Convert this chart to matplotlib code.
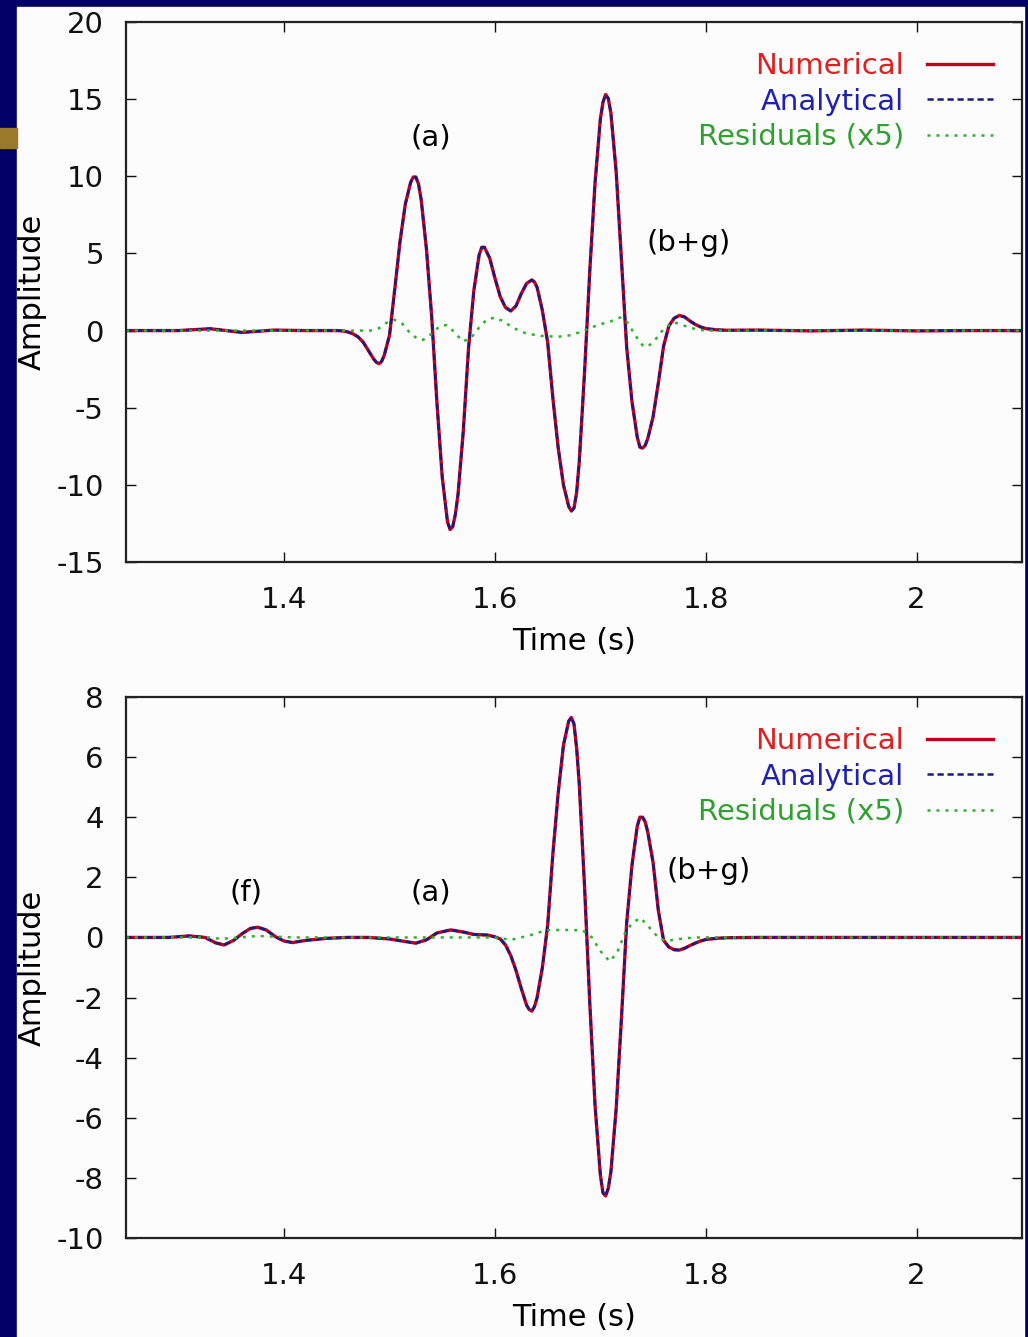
import matplotlib
matplotlib.use('Agg')
import matplotlib.pyplot as plt
from matplotlib.patches import Rectangle

plt.rcParams['font.family'] = ['DejaVu Sans']
plt.rcParams['axes.unicode_minus'] = False

# ---- upper trace: numerical / analytical waveform ----
t_top = [1.25, 1.30, 1.33, 1.36, 1.39, 1.42,
         1.440, 1.450, 1.455, 1.460, 1.465, 1.470, 1.475, 1.480, 1.485, 1.4875,
         1.490, 1.4925, 1.495, 1.500, 1.505, 1.510, 1.515, 1.520, 1.5225, 1.525, 1.5275,
         1.530, 1.535, 1.540, 1.545, 1.550, 1.555, 1.5575, 1.560, 1.5625, 1.565,
         1.570, 1.575, 1.580, 1.585, 1.5875, 1.590, 1.595, 1.600, 1.605, 1.610,
         1.615, 1.620, 1.625, 1.630, 1.635, 1.6375, 1.640, 1.645, 1.650, 1.655,
         1.660, 1.665, 1.670, 1.6725, 1.675, 1.6775, 1.680, 1.685, 1.690, 1.695,
         1.700, 1.7025, 1.705, 1.7075, 1.710, 1.715, 1.720, 1.725, 1.730, 1.735,
         1.7375, 1.740, 1.7425, 1.745, 1.750, 1.755, 1.760, 1.765, 1.770, 1.775,
         1.780, 1.785, 1.790, 1.795, 1.800, 1.810, 1.820, 1.85, 1.90, 1.95,
         2.00, 2.05, 2.10]
num_top = [0.0, 0.0, 0.12, -0.12, 0.03, 0.0,
           0.0, 0.0, -0.02, -0.08, -0.2, -0.4, -0.75, -1.3, -1.85, -2.05,
           -2.15, -2.0, -1.6, -0.3, 2.7, 5.8, 8.2, 9.6, 9.95, 9.95, 9.5,
           8.5, 5.3, 0.9, -4.7, -9.5, -12.4, -12.9, -12.7, -11.9, -10.6,
           -6.5, -1.1, 2.6, 4.9, 5.4, 5.4, 4.7, 3.4, 2.2, 1.5,
           1.27, 1.6, 2.4, 3.05, 3.28, 3.15, 2.8, 1.3, -0.75, -4.4,
           -7.6, -10.0, -11.4, -11.7, -11.5, -10.5, -8.5, -2.7, 3.9, 9.6,
           13.7, 14.8, 15.3, 15.05, 14.1, 10.3, 4.6, -1.1, -4.6, -6.9,
           -7.55, -7.62, -7.45, -7.0, -5.6, -3.4, -1.0, 0.3, 0.8, 0.98,
           0.88, 0.62, 0.4, 0.24, 0.13, 0.05, 0.02, 0.03, -0.02, 0.03,
           -0.02, 0.0, 0.0]
# the analytical trace lies on top of the numerical one at this scale
ana_top = list(num_top)

t_res_top = [1.25, 1.40, 1.482, 1.490, 1.497, 1.5045, 1.512, 1.520, 1.527, 1.532,
             1.540, 1.547, 1.5537, 1.560, 1.5695, 1.577, 1.585, 1.592, 1.600, 1.608,
             1.618, 1.630, 1.645, 1.660, 1.672, 1.685, 1.697, 1.710, 1.719, 1.726,
             1.733, 1.740, 1.745, 1.752, 1.760, 1.7695, 1.778, 1.790, 1.800, 2.10]
res_top = [0.0, 0.0, 0.0, 0.15, 0.5, 0.7, 0.45, -0.2, -0.55, -0.6,
           -0.2, 0.25, 0.36, 0.0, -0.7, -0.5, 0.2, 0.7, 0.85, 0.6,
           0.15, -0.2, -0.35, -0.4, -0.3, 0.0, 0.35, 0.6, 0.85, 0.5,
           -0.3, -0.95, -1.05, -0.6, 0.1, 0.55, 0.35, 0.1, 0.0, 0.0]

# ---- lower trace ----
t_bot = [1.25, 1.29, 1.31, 1.325, 1.335, 1.343, 1.352, 1.360, 1.368, 1.375,
         1.383, 1.392, 1.400, 1.408, 1.420, 1.440, 1.460, 1.480, 1.500, 1.512,
         1.525, 1.535, 1.545, 1.558, 1.570, 1.580, 1.593, 1.600,
         1.605, 1.610, 1.615, 1.620, 1.625, 1.630, 1.6325, 1.635, 1.6375, 1.640,
         1.645, 1.650, 1.655, 1.660, 1.665, 1.670, 1.6725, 1.675, 1.6775, 1.680,
         1.685, 1.690, 1.695, 1.700, 1.7025, 1.705, 1.7075, 1.710, 1.715, 1.720,
         1.725, 1.730, 1.735, 1.7375, 1.740, 1.7425, 1.745, 1.750, 1.755, 1.760,
         1.765, 1.770, 1.775, 1.780, 1.785, 1.790, 1.795, 1.800, 1.810, 1.820,
         1.85, 1.90, 2.00, 2.10]
num_bot = [0.0, 0.0, 0.05, 0.0, -0.18, -0.25, -0.1, 0.12, 0.3, 0.34,
           0.25, 0.02, -0.12, -0.17, -0.1, -0.03, 0.0, 0.0, -0.05, -0.12,
           -0.19, -0.08, 0.15, 0.25, 0.18, 0.1, 0.08, 0.02,
           -0.05, -0.25, -0.6, -1.1, -1.7, -2.25, -2.4, -2.45, -2.3, -2.0,
           -1.0, 0.4, 2.8, 4.8, 6.4, 7.2, 7.32, 7.1, 6.3, 5.1,
           1.7, -2.2, -5.6, -7.9, -8.5, -8.6, -8.35, -7.8, -5.7, -2.7,
           0.5, 2.4, 3.7, 4.0, 4.0, 3.85, 3.5, 2.5, 0.9, -0.1,
           -0.32, -0.41, -0.42, -0.36, -0.27, -0.19, -0.12, -0.07, -0.03, -0.01,
           0.0, 0.0, 0.0, 0.0]
ana_bot = list(num_bot)

t_res_bot = [1.25, 1.33, 1.34, 1.375, 1.41, 1.60, 1.615, 1.625, 1.638, 1.648,
             1.665, 1.683, 1.692, 1.700, 1.709, 1.716, 1.724, 1.731, 1.738, 1.746,
             1.755, 1.762, 1.775, 1.790, 2.10]
res_bot = [0.0, 0.0, -0.05, 0.05, 0.0, 0.0, -0.08, 0.0, 0.12, 0.24,
           0.25, 0.24, 0.0, -0.45, -0.8, -0.5, 0.2, 0.5, 0.65, 0.35,
           0.0, -0.12, -0.05, 0.0, 0.0]

labels_top = [(1.539, 12.5, '(a)'), (1.784, 5.7, '(b+g)')]
labels_bot = [(1.364, 1.5, '(f)'), (1.539, 1.5, '(a)'), (1.803, 2.2, '(b+g)')]

fig = plt.figure(figsize=(10.28, 13.37), dpi=100)
fig.patch.set_facecolor('#000066')
# white slide panel and the little decoration on the left border
fig.patches.append(Rectangle((17/1028, 0), 1007/1028, 1 - 7/1337,
                             transform=fig.transFigure, color='#fbfcfb', zorder=-10))
fig.patches.append(Rectangle((0, 1 - 148/1337), 17/1028, 20/1337,
                             transform=fig.transFigure, color='#9a7a2a', zorder=-10))

ax1 = fig.add_axes([126/1028, 1 - 562/1337, 896/1028, 540/1337])
ax2 = fig.add_axes([126/1028, 1 - 1238/1337, 896/1028, 541/1337])


def draw(ax, t, num, ana, tr, res, ylim, yticks, notes):
    ax.set_facecolor('none')
    ax.plot(t, num, color='#c00020', lw=2.4, label='Numerical')
    ax.plot(t, ana, color='#1a1a80', lw=1.8, ls=(0, (2.5, 1.5)), label='Analytical')
    ax.plot(tr, res, color='#30b030', lw=1.8, ls=(0, (1.2, 2.4)), label='Residuals (x5)')
    ax.set_xlim(1.25, 2.1)
    ax.set_ylim(*ylim)
    ax.set_xticks([1.4, 1.6, 1.8, 2.0])
    ax.set_xticklabels(['1.4', '1.6', '1.8', '2'])
    ax.set_yticks(yticks)
    ax.tick_params(direction='in', length=7, width=1.0, top=True, right=True,
                   labelsize=21, colors='#111111')
    ax.tick_params(axis='x', pad=17)
    ax.tick_params(axis='y', pad=16)
    for s in ax.spines.values():
        s.set_linewidth(1.6)
        s.set_color('#222222')
    ax.set_xlabel('Time (s)', fontsize=22)
    ax.set_ylabel('Amplitude', fontsize=22)
    ax.xaxis.set_label_coords(0.5, -0.12)
    ax.yaxis.set_label_coords(-0.088, 0.5)
    for x, y, s in notes:
        ax.text(x, y, s, fontsize=21, ha='center', va='center', color='#000000')
    ax.legend(loc='upper right', bbox_to_anchor=(0.9676, 0.944), frameon=False,
              markerfirst=False, fontsize=21, handlelength=2.25, handletextpad=0.8,
              borderpad=0, borderaxespad=0, labelspacing=0.25,
              labelcolor=['#dd2020', '#2020b0', '#30a030'])


draw(ax1, t_top, num_top, ana_top, t_res_top, res_top, (-15, 20),
     [-15, -10, -5, 0, 5, 10, 15, 20], labels_top)
draw(ax2, t_bot, num_bot, ana_bot, t_res_bot, res_bot, (-10, 8),
     [-10, -8, -6, -4, -2, 0, 2, 4, 6, 8], labels_bot)

fig.savefig('out.png', dpi=100, facecolor=fig.get_facecolor())
